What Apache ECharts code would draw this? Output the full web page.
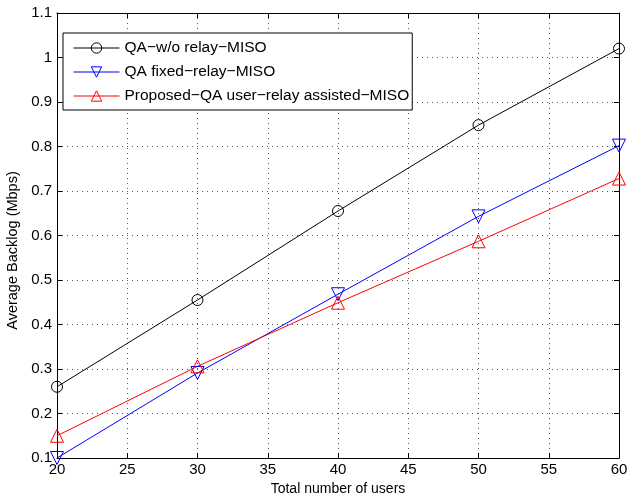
<!DOCTYPE html>
<html>
<head>
<meta charset="utf-8">
<script src="https://cdn.jsdelivr.net/npm/echarts@6/dist/echarts.min.js"></script>
<style>
  html, body { margin: 0; padding: 0; background: #fff; }
  #chart { width: 629px; height: 501px; }
</style>
</head>
<body>
<div id="chart"></div>
<script>
// values
let users = [20, 30, 40, 50, 60];
let noRelay = [0.26, 0.455, 0.655, 0.848, 1.02];
let fixedRelay = [0.10, 0.291, 0.468, 0.643, 0.802];
let userRelay = [0.15, 0.306, 0.449, 0.587, 0.728];

let seriesNames = [
    'QA\u2212w/o relay\u2212MISO',
    'QA fixed\u2212relay\u2212MISO',
    'Proposed\u2212QA user\u2212relay assisted\u2212MISO'
];

var font = 'Liberation Sans, Arial, sans-serif';

function pairs(ys) {
    return users.map((x, i) => [x, ys[i]]);
}

function makeSeries(name, ys, color, symbol, rotate) {
    return {
        name: name,
        type: 'line',
        data: pairs(ys),
        symbol: symbol,
        symbolSize: symbol === 'circle' ? 11 : 13,
        symbolRotate: rotate,
        lineStyle: { color: color, width: 1 },
        itemStyle: { color: 'rgba(0,0,0,0)', borderColor: color, borderWidth: 1 },
        emphasis: { disabled: true },
        animation: false,
        z: 3
    };
}

let chart = echarts.init(document.getElementById('chart'));

let gridLine = { show: true, lineStyle: { color: '#555', type: [1, 4], width: 1 } };

let conf = {
    animation: false,
    textStyle: { fontFamily: font },
    grid: { left: 57, right: 10, top: 13, bottom: 43, containLabel: false, outerBoundsMode: 'none' },
    legend: {
        orient: 'vertical',
        left: 63,
        top: 33,
        data: seriesNames,
        backgroundColor: '#fff',
        borderColor: '#000',
        borderWidth: 1,
        borderRadius: 0,
        padding: [7, 3, 6, 10],
        itemWidth: 46,
        itemHeight: 13,
        itemGap: 8,
        lineStyle: { width: 1 },
        itemStyle: { borderWidth: 1 },
        textStyle: { fontFamily: font, fontSize: 15.5, color: '#000' }
    },
    xAxis: [
        {
            type: 'value',
            min: 20,
            max: 60,
            interval: 5,
            name: 'Total number of users',
            nameLocation: 'middle',
            nameGap: 24,
            nameTextStyle: { fontFamily: font, fontSize: 14, color: '#000' },
            axisLine: { lineStyle: { color: '#000', width: 1 } },
            axisTick: { inside: true, length: 5, lineStyle: { color: '#000' } },
            axisLabel: { fontFamily: font, fontSize: 15, color: '#000', margin: 4 },
            splitLine: gridLine
        },
        {
            type: 'value',
            position: 'top',
            min: 20,
            max: 60,
            interval: 5,
            axisLine: { show: true, lineStyle: { color: '#000', width: 1 } },
            axisTick: { inside: true, length: 5, lineStyle: { color: '#000' } },
            axisLabel: { show: false },
            splitLine: { show: false }
        }
    ],
    yAxis: [
        {
            type: 'value',
            min: 0.1,
            max: 1.1,
            interval: 0.1,
            name: 'Average Backlog (Mbps)',
            nameLocation: 'middle',
            nameGap: 28,
            nameTextStyle: { fontFamily: font, fontSize: 14.5, color: '#000', padding: [0, 30, 0, 0] },
            axisLine: { show: true, lineStyle: { color: '#000', width: 1 } },
            axisTick: { show: true, inside: true, length: 5, lineStyle: { color: '#000' } },
            axisLabel: {
                fontFamily: font, fontSize: 15, color: '#000', margin: 5,
                formatter: v => String(Math.round(v * 10) / 10)
            },
            splitLine: gridLine
        },
        {
            type: 'value',
            position: 'right',
            min: 0.1,
            max: 1.1,
            interval: 0.1,
            axisLine: { show: true, lineStyle: { color: '#000', width: 1 } },
            axisTick: { show: true, inside: true, length: 5, lineStyle: { color: '#000' } },
            axisLabel: { show: false },
            splitLine: { show: false }
        }
    ],
    series: [
        makeSeries(seriesNames[0], noRelay, '#000000', 'circle', 0),
        makeSeries(seriesNames[1], fixedRelay, '#0000ff', 'triangle', 180),
        makeSeries(seriesNames[2], userRelay, '#ff0000', 'triangle', 0)
    ]
};

chart.setOption(conf);
</script>
</body>
</html>
